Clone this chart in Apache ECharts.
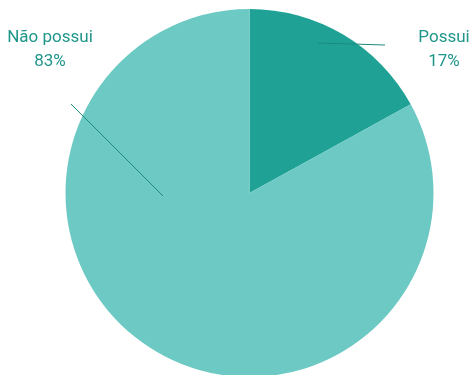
<!DOCTYPE html>
<html>
<head>
<meta charset="utf-8">
<script src="https://cdn.jsdelivr.net/npm/echarts@6/dist/echarts.min.js"></script>
<style>
  html, body { margin: 0; padding: 0; background: #ffffff; }
  #chart { width: 471px; height: 375px; }
</style>
</head>
<body>
<div id="chart"></div>
<script>
// Categories and shares (percent)
const categories = ['Possui', 'Não possui'];
const shares = [17, 83];
const sliceColors = ['#1fa295', '#6cc9c3'];

// Leader lines run from inside each slice out to its label
const labelSpots = [
  { x: 444, y: 50, line: [[318, 43], [352, 44], [385, 45]] },
  { x: 50, y: 50, line: [[163, 196], [117, 150], [71, 104]] }
];

const pieCenter = [249.5, 193];
const pieRadius = 184;

const chart = echarts.init(document.getElementById('chart'), null, { renderer: 'canvas' });

chart.setOption({
  animation: false,
  backgroundColor: '#ffffff',
  series: [
    {
      // the slices
      type: 'pie',
      z: 2,
      center: pieCenter,
      radius: pieRadius,
      startAngle: 90,
      clockwise: true,
      silent: true,
      data: categories.map((name, i) => ({
        name: name,
        value: shares[i],
        itemStyle: { color: sliceColors[i] }
      })),
      itemStyle: { borderWidth: 0 },
      label: { show: false },
      labelLine: { show: false },
      emphasis: { disabled: true }
    },
    {
      // labels and leader lines, layered over the slices
      type: 'pie',
      z: 5,
      center: pieCenter,
      radius: pieRadius,
      startAngle: 90,
      clockwise: true,
      silent: true,
      avoidLabelOverlap: false,
      data: categories.map((name, i) => ({ name: name, value: shares[i] })),
      itemStyle: { color: 'rgba(0,0,0,0)', borderWidth: 0 },
      label: {
        show: true,
        position: 'outside',
        formatter: p => p.name + '\n' + p.value + '%',
        fontFamily: 'Roboto, "Liberation Sans", Arial, sans-serif',
        fontSize: 17,
        lineHeight: 24,
        color: '#1e968a',
        align: 'center'
      },
      labelLine: {
        show: true,
        lineStyle: { color: '#1e8a7e', width: 1 }
      },
      labelLayout: function (params) {
        const s = labelSpots[params.dataIndex];
        return {
          x: s.x,
          y: s.y,
          align: 'center',
          verticalAlign: 'middle',
          labelLinePoints: s.line
        };
      },
      emphasis: { disabled: true }
    }
  ]
});
</script>
</body>
</html>
